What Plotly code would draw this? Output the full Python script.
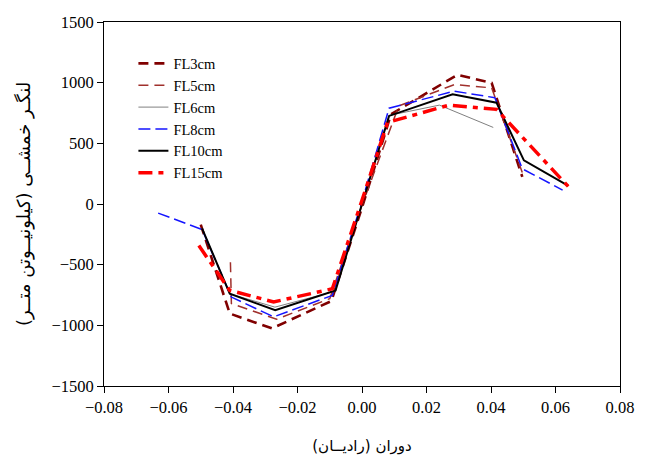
import plotly.graph_objects as go

# ---- data ----
fl3_x = [-0.0500, -0.0410, -0.0279, -0.0095, 0.0, 0.0090, 0.0296, 0.0402, 0.0497]
fl3_y = [-170, -903, -1025, -800, -30, 740, 1065, 998, 224]

fl5_x = [-0.0408, -0.0405, -0.0265, -0.0100, 0.0, 0.0114, 0.0286, 0.0402, 0.0497]
fl5_y = [-480, -820, -950, -780, -10, 808, 984, 957, 260]

fl6_x = [-0.0496, -0.0410, -0.0270, -0.0085, 0.0, 0.0084, 0.0240, 0.0407]
fl6_y = [-200, -740, -850, -720, 0, 730, 815, 631]

fl8_x = [-0.0632, -0.0496, -0.0405, -0.0274, -0.0092, 0.0, 0.0084, 0.0286, 0.0412, 0.0497, 0.0622]
fl8_y = [-75, -210, -767, -930, -753, 20, 790, 930, 876, 290, 115]

fl10_x = [-0.0496, -0.0410, -0.0269, -0.0082, 0.0, 0.0084, 0.0281, 0.0417, 0.0502, 0.0640]
fl10_y = [-200, -740, -875, -712, 0, 726, 905, 835, 360, 150]

fl15_x = [-0.0506, -0.0410, -0.0274, -0.0092, 0.0, 0.0079, 0.0270, 0.0417, 0.0648]
fl15_y = [-343, -712, -807, -699, 30, 672, 815, 780, 120]

x_ticks = [-0.08, -0.06, -0.04, -0.02, 0.00, 0.02, 0.04, 0.06, 0.08]
y_ticks = [-1500, -1000, -500, 0, 500, 1000, 1500]

series = [
    ("FL3cm", fl3_x, fl3_y, dict(color="#800000", width=2.6, dash="10px,6px")),
    ("FL5cm", fl5_x, fl5_y, dict(color="#A0302C", width=1.5, dash="10px,6px")),
    ("FL6cm", fl6_x, fl6_y, dict(color="#808080", width=1.0)),
    ("FL8cm", fl8_x, fl8_y, dict(color="#1414FF", width=1.5, dash="12px,5px")),
    ("FL10cm", fl10_x, fl10_y, dict(color="#000000", width=2.0)),
    ("FL15cm", fl15_x, fl15_y, dict(color="#FF0000", width=3.5, dash="14px,6px,5px,6px")),
]

fig = go.Figure()
for name, xs, ys, ln in series:
    fig.add_trace(go.Scatter(x=xs, y=ys, mode="lines", name=name, line=ln))

serif = "Liberation Serif"
fig.update_layout(
    width=646, height=463,
    margin=dict(l=104, r=14, t=22, b=73),
    paper_bgcolor="white", plot_bgcolor="white",
    font=dict(family=serif, size=16, color="black"),
    showlegend=True,
    legend=dict(x=0.057, y=0.93, xanchor="left", yanchor="top",
                bgcolor="rgba(0,0,0,0)", borderwidth=0,
                font=dict(family=serif, size=14.5, color="black"),
                tracegroupgap=0),
)
fig.update_xaxes(
    range=[-0.08, 0.08], tickvals=x_ticks, tickformat=".2f",
    ticklabeloverflow="allow",
    showgrid=False, zeroline=False, showline=True, linecolor="black", linewidth=1,
    mirror=True, ticks="outside", ticklen=6, tickcolor="black",
    tickfont=dict(family=serif, size=16.5, color="black"),
    title=dict(text="دوران (رادیــان)", font=dict(family="DejaVu Sans", size=15, color="black"), standoff=24),
)
fig.update_yaxes(
    range=[-1500, 1500], tickvals=y_ticks,
    ticklabeloverflow="allow",
    showgrid=False, zeroline=False, showline=True, linecolor="black", linewidth=1,
    mirror=True, ticks="outside", ticklen=6, tickcolor="black",
    tickfont=dict(family=serif, size=16.5, color="black"),
    title=dict(text="لنگـر خمشــی (کیلونیــوتن متــر)", font=dict(family="DejaVu Sans", size=18, color="black"), standoff=16),
)

fig.write_html("out.html")
